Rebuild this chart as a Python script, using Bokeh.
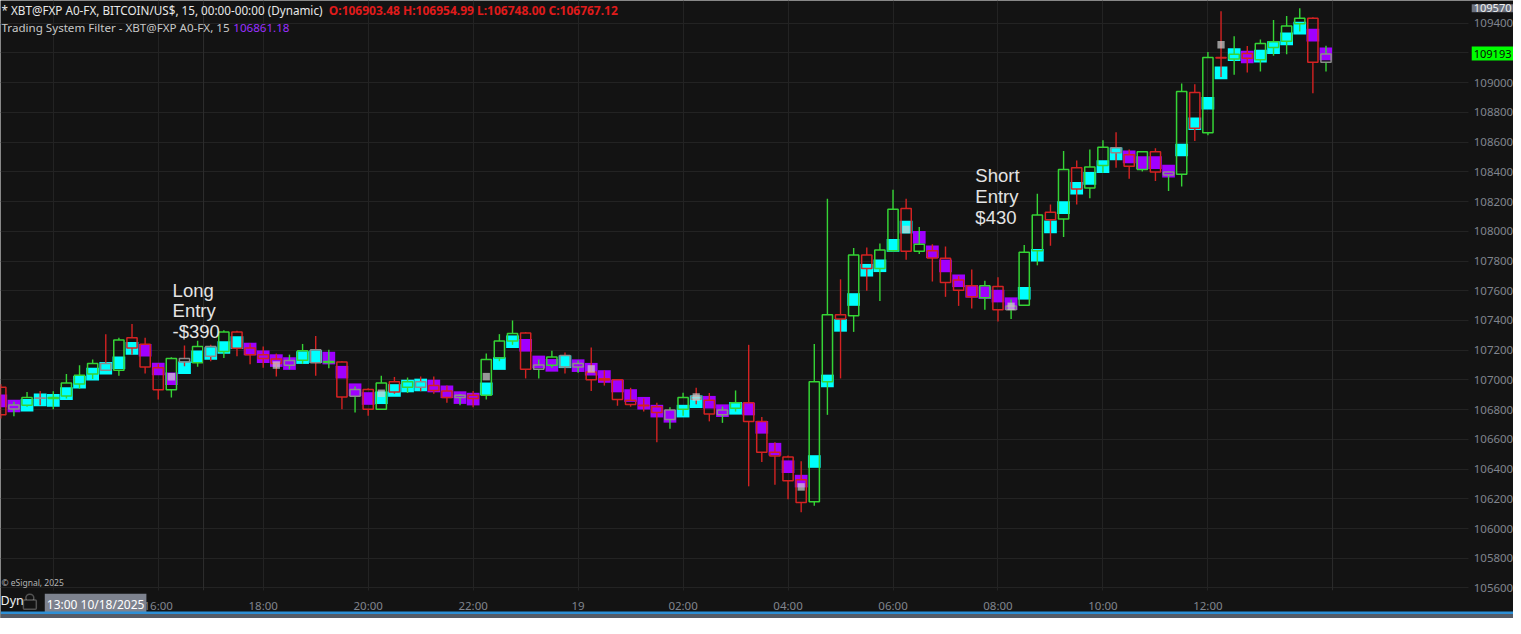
from bokeh.plotting import figure
from bokeh.models import (ColumnDataSource, Range1d, FixedTicker, Label, BoxAnnotation,
                          BasicTickFormatter)
from bokeh.embed import file_html
from bokeh.resources import INLINE

# ---------------- data (15-minute bars, 13:00 10/18/2025 onward) ----------------
opens = [106950, 106805, 106830, 106879, 106875, 106891, 106973, 107039, 107111, 107065,
         107284, 107240, 107082, 106934, 107144, 107115, 107225, 107192, 107323, 107215,
         107170, 107140, 107098, 107133, 107203, 107118, 107120, 106890, 106936, 106803,
         106988, 106951, 106988, 106962, 106925, 106881, 106897, 106897, 107148, 107262,
         107316, 107072, 107098, 107164, 107087, 107054, 107008, 107001, 106864, 106830,
         106820, 106733, 106803, 106890, 106864, 106765, 106809, 106846, 106721, 106514,
         106481, 106328, 106180, 106988, 107439, 107432, 107841, 107749, 107869, 108154,
         107865, 107869, 107819, 107672, 107633, 107553, 107629, 107472, 107502, 107869,
         108128, 108082, 108427, 108292, 108443, 108562, 108515, 108416, 108536, 108378,
         108384, 108934, 108663, 109170, 109160, 109197, 109155, 109236, 109279, 109396,
         109433, 109138]
highs = [106970, 106853, 106918, 106925, 106923, 107039, 107098, 107137, 107308, 107284,
         107377, 107284, 107108, 107153, 107231, 107264, 107236, 107334, 107330, 107245,
         107225, 107177, 107170, 107242, 107296, 107203, 107126, 106956, 106944, 107028,
         107020, 107016, 107023, 107023, 106962, 106906, 106925, 107177, 107308, 107400,
         107322, 107137, 107196, 107185, 107131, 107218, 107065, 107001, 106947, 106875,
         106846, 106816, 106914, 106947, 106912, 106820, 106929, 107236, 106750, 106580,
         106492, 106453, 107242, 108219, 107677, 107887, 107891, 107918, 108280, 108219,
         108029, 107913, 107898, 107699, 107743, 107668, 107690, 107541, 107907, 108252,
         108180, 108541, 108477, 108551, 108613, 108667, 108551, 108541, 108558, 108405,
         108995, 108989, 109207, 109481, 109312, 109247, 109291, 109422, 109448, 109501,
         109440, 109249]
lows = [106740, 106755, 106820, 106830, 106803, 106875, 106941, 107006, 107060, 107028,
        107169, 107043, 106868, 106881, 107092, 107089, 107126, 107148, 107159, 107105,
        107082, 107023, 107072, 107108, 107028, 107078, 106803, 106780, 106759, 106798,
        106907, 106912, 106925, 106907, 106846, 106830, 106816, 106868, 107126, 107236,
        107010, 107010, 107082, 107043, 107049, 106925, 106962, 106826, 106820, 106787,
        106580, 106672, 106759, 106837, 106721, 106711, 106787, 106284, 106448, 106295,
        106197, 106110, 106154, 106765, 107010, 107323, 107600, 107531, 107862, 107808,
        107848, 107662, 107559, 107498, 107480, 107472, 107393, 107410, 107498, 107771,
        107902, 107961, 108180, 108223, 108394, 108427, 108354, 108403, 108339, 108271,
        108302, 108608, 108646, 109039, 109053, 109068, 109076, 109181, 109192, 109345,
        108929, 109076]
closes = [106765, 106831, 106881, 106876, 106882, 106980, 107032, 107111, 107065, 107268,
          107215, 107087, 106934, 107144, 107120, 107225, 107160, 107323, 107213, 107170,
          107144, 107110, 107130, 107196, 107115, 107124, 106885, 106936, 106803, 106980,
          106918, 106988, 106951, 106929, 106881, 106897, 106875, 107137, 107262, 107312,
          107072, 107100, 107154, 107087, 107111, 107001, 106999, 106869, 106835, 106826,
          106781, 106798, 106881, 106870, 106770, 106798, 106846, 106721, 106514, 106488,
          106322, 106175, 106988, 107439, 107410, 107841, 107749, 107874, 108149, 107865,
          107913, 107821, 107655, 107603, 107559, 107633, 107472, 107498, 107859, 108110,
          108077, 108416, 108285, 108433, 108565, 108529, 108438, 108536, 108399, 108399,
          108941, 108693, 109170, 109166, 109192, 109164, 109264, 109275, 109382, 109433,
          109138, 109193]
# body outline colour code: g = up, r = down, n = neutral (grey)
body_code = list("rngnggggng" "rrrgngngrr" "rrngngrnrg" "rgnrrnrggg" "rngnnrrrrr"
                 "rngnrngrrr" "rrggrgrggr" "grrrrgrngg" "rgrggnrgrn" "grgrgrgggg" "rn")
# Trading System Filter value and state: c = bullish (cyan), m = bearish (magenta)
filt = [106859, 106824, 106830, 106866, 106862, 106908, 106984, 107039, 107078, 107115,
        107212, 107200, 107073, 107008, 107082, 107156, 107178, 107218, 107251, 107208,
        107156, 107130, 107110, 107150, 107157, 107147, 107052, 106934, 106875, 106880,
        106929, 106959, 106966, 106959, 106920, 106881, 106871, 106940, 107110, 107257,
        107233, 107121, 107098, 107122, 107096, 107072, 107023, 106959, 106895, 106843,
        106790, 106755, 106790, 106853, 106850, 106793, 106809, 106804, 106681, 106534,
        106416, 106319, 106451, 106993, 107367, 107541, 107738, 107768, 107905, 108028,
        107959, 107862, 107767, 107667, 107596, 107587, 107564, 107513, 107583, 107839,
        108030, 108159, 108290, 108356, 108435, 108521, 108501, 108462, 108462, 108405,
        108547, 108724, 108862, 109066, 109189, 109173, 109179, 109236, 109295, 109367,
        109320, 109194]
filt_code = list("mmcccccccc" "cmmmcccccm" "mmmccmmmmc" "cccmmmmccc" "mmmcmmmmmm"
                 "mmccmmcmmm" "mmcccccccc" "mmmmmmmmcc" "ccccccmmmm" "cccccmcccc" "mm")
signal_bar = [13, 21, 29, 37, 45, 53, 61, 69, 77, 93]
signal_val = [107022, 107100, 106910, 107022, 107074, 106885, 106280, 108012, 107495, 109256]

x_ticks = [4, 12, 20, 28, 36, 44, 52, 60, 68, 76, 84, 92]
x_tick_labels = ["", "16:00", "18:00", "20:00", "22:00", "19", "02:00", "04:00",
                 "06:00", "08:00", "10:00", "12:00"]
y_ticks = [105600, 105800, 106000, 106200, 106400, 106600, 106800, 107000, 107200,
           107400, 107600, 107800, 108000, 108200, 108400, 108600, 108800, 109000,
           109200, 109400]
session_marks = [15.45, 101.5]
last_price_text = "109193"
high_mark_text = "109570"

# ---------------- styling / layout ----------------
BG = "#131313"
GRID = "#232323"
COL = {"g": "#35d435", "r": "#d42222", "n": "#8c8c8c", "c": "#00ffff", "m": "#a000ff"}
FONT = "Noto Sans"

# the whole canvas is the frame; reference-pixel -> data mapping
REF_W, REF_H = 1521.0, 634.0
X0, X1 = -0.023, 115.29
Y1, Y0 = 109553, 105394.6
PLOT_R, PLOT_B = 1476.0, 605.0   # edge of the price area in reference pixels


def xd(px):
    return X0 + px / REF_W * (X1 - X0)


def yd(py):
    return Y1 - py / REF_H * (Y1 - Y0)


n = len(opens)
src = ColumnDataSource(dict(
    x=list(range(n)),
    o=opens, h=highs, l=lows, c=closes,
    top=[max(a, b) for a, b in zip(opens, closes)],
    bot=[min(a, b) for a, b in zip(opens, closes)],
    bcol=[COL[k] for k in body_code],
    wcol=[COL["g"] if c >= o else COL["r"] for o, c in zip(opens, closes)],
    f=filt,
    fcol=[COL[k] for k in filt_code],
))
sig = ColumnDataSource(dict(x=signal_bar, y=signal_val))

p = figure(width=1513, height=618,
           x_range=Range1d(X0, X1), y_range=Range1d(Y0, Y1),
           y_axis_location="right", output_backend="svg", toolbar_location=None,
           background_fill_color=BG, border_fill_color=BG, outline_line_color=None,
           min_border_left=0, min_border_top=0, min_border_right=0, min_border_bottom=0)

# axes drawn inside the canvas at the price-area edges
p.xaxis.ticker = FixedTicker(ticks=x_ticks)
p.xaxis.major_label_overrides = {t: s for t, s in zip(x_ticks, x_tick_labels)}
p.xaxis.fixed_location = yd(PLOT_B)
p.yaxis.ticker = FixedTicker(ticks=y_ticks)
p.yaxis.formatter = BasicTickFormatter(use_scientific=False)
p.yaxis.fixed_location = xd(PLOT_R)
for ax in (p.xaxis[0], p.yaxis[0]):
    ax.axis_line_color = None
    ax.major_tick_line_color = None
    ax.minor_tick_line_color = None
    ax.major_tick_out = 0
    ax.major_label_text_color = "#80858e"
    ax.major_label_text_font = FONT
    ax.major_label_text_font_size = "11.5px"
p.xaxis.major_label_standoff = 8
p.yaxis.major_label_standoff = 5
p.xgrid.ticker = FixedTicker(ticks=x_ticks)
p.ygrid.ticker = FixedTicker(ticks=y_ticks)
p.xgrid.grid_line_color = GRID
p.ygrid.grid_line_color = GRID
try:
    p.xgrid.cross_bounds = (yd(PLOT_B), Y1)
    p.ygrid.cross_bounds = (X0, xd(PLOT_R))
except AttributeError:
    pass

for s in session_marks:
    p.add_layout(BoxAnnotation(left=s - 0.04, right=s + 0.04, bottom=yd(PLOT_B),
                               fill_color="#2c2c2c", fill_alpha=1.0, line_color=None))

# filter squares
p.rect(x="x", y="f", width=0.97, height=12.6, height_units="screen",
       fill_color="fcol", line_color=None, source=src)
# wicks
p.segment(x0="x", y0="h", x1="x", y1="top", line_color="wcol", line_width=1.4, source=src)
p.segment(x0="x", y0="bot", x1="x", y1="l", line_color="wcol", line_width=1.4, source=src)
# hollow candle bodies
p.vbar(x="x", width=0.78, top="top", bottom="bot", fill_alpha=0,
       line_color="bcol", line_width=1.5, source=src)
# signal markers
p.rect(x="x", y="y", width=0.55, height=7.5, height_units="screen",
       fill_color="#d0d0d0", fill_alpha=0.7, line_color=None, source=sig)


def lab(text, px, py, color, size, font=FONT, style="normal", bg=None, pad=0, align="left"):
    kw = dict(x=xd(px), y=yd(py), text=text, text_color=color, text_font=font,
              text_font_size=size, text_font_style=style, text_align=align,
              text_baseline="middle")
    if bg is not None:
        kw.update(background_fill_color=bg, background_fill_alpha=1.0, padding=pad)
    p.add_layout(Label(**kw))


# header lines
lab("* XBT@FXP A0-FX, BITCOIN/US$, 15, 00:00-00:00 (Dynamic)", 1, 10, "#e8e8e8", "11.7px")
lab("O:106903.48 H:106954.99 L:106748.00 C:106767.12", 330, 10, "#e01b1b", "12px", style="bold")
lab("Trading System Filter - XBT@FXP A0-FX, 15", 1, 28, "#c8c8c8", "11.6px")
lab("106861.18", 234, 28, "#9b30ff", "11.6px")

# trade annotations
for i, t in enumerate(["Long", "Entry", "-$390"]):
    lab(t, 173, 297 + 21.5 * i, "#e4e4e4", "18.5px", font="Liberation Sans")
for i, t in enumerate(["Short", "Entry", "$430"]):
    lab(t, 980, 180 + 21.5 * i, "#e4e4e4", "18.5px", font="Liberation Sans")

lab("\u00a9 eSignal, 2025", 1, 597, "#b4b4b4", "8.5px")

# price boxes on the right axis
lab(high_mark_text, 1479, 8, "#f0f0f0", "11px", bg="#6b717e", pad=(2, 0))
lab(last_price_text, 1479, 54.5, "#0a0a0a", "11px", bg="#00ff00", pad=(2, 3))

# bottom strip: "Dyn", lock glyph, start-date box, blue/grey bands
lab("Dyn", 0, 616, "#f0f0f0", "12.5px")
p.add_layout(BoxAnnotation(left=xd(25.5), right=xd(33.5), top=yd(609), bottom=yd(617),
                           fill_alpha=0, line_color="#e8e8e8", line_width=1.5, border_radius=4))
p.add_layout(BoxAnnotation(left=xd(23), right=xd(36), top=yd(615), bottom=yd(624.5),
                           fill_color=BG, fill_alpha=1.0, line_color="#e8e8e8", line_width=1.5,
                           border_radius=1))
lab("13:00 10/18/2025", 44.5, 619.5, "#ffffff", "12px", bg="#7d828e", pad=2)
p.add_layout(BoxAnnotation(top=yd(626.8), bottom=yd(629.5),
                           fill_color="#2d8fd5", fill_alpha=1.0, line_color=None))
p.add_layout(BoxAnnotation(top=yd(629.5),
                           fill_color="#555b66", fill_alpha=1.0, line_color=None))

open("out.html", "w").write(file_html(p, INLINE))
